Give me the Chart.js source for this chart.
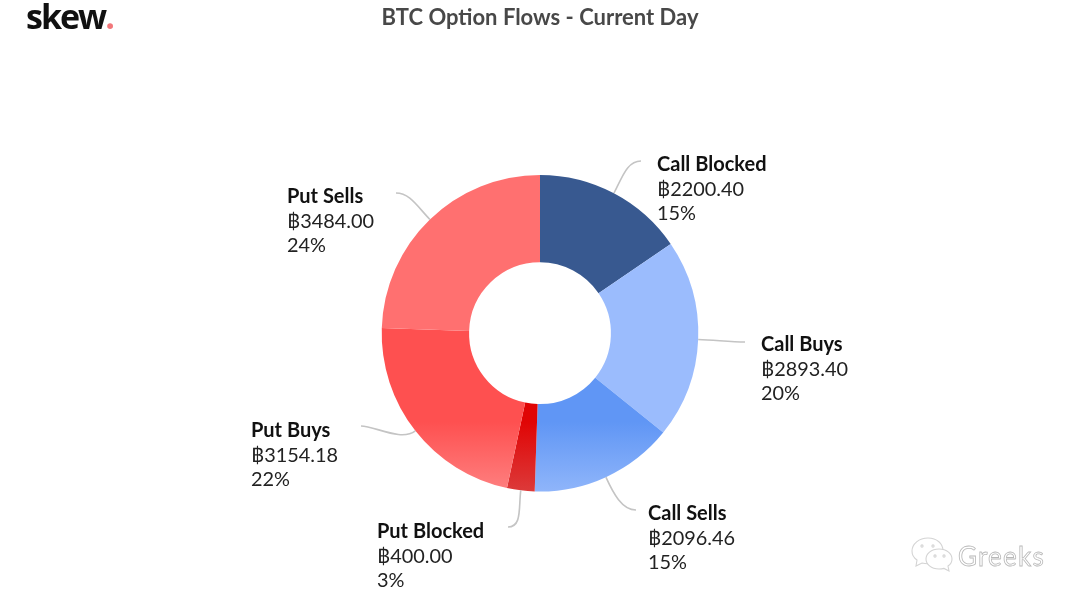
<!DOCTYPE html>
<html>
<head>
<meta charset="utf-8">
<title>BTC Option Flows - Current Day</title>
<script src="https://cdn.jsdelivr.net/npm/chart.js@4/dist/chart.umd.min.js"></script>
<style>
  html, body { margin: 0; padding: 0; background: #fff; }
  #wrap { position: relative; width: 1080px; height: 603px; overflow: hidden; }
  #logo { position: absolute; left: 26px; top: -7px; font: bold 34px "Open Sans", sans-serif; color: #111; letter-spacing: -2px; }
  #logo span { color: #f2777a; }
  #mark { position: absolute; left: 910px; top: 536px; }
</style>
</head>
<body>
<div id="wrap">
  <canvas id="flows" width="1080" height="603"></canvas>
  <div id="logo">skew<span>.</span></div>
  <svg id="mark" width="140" height="46" viewBox="0 0 140 46">
    <g fill="#fff" stroke="#d4d4d4" stroke-width="1.1">
      <path d="M18 2c-9 0-16 6-16 13 0 4 2 7 5 9l-1 6 6-3c2 .5 4 .7 6 .7 9 0 15-6 15-13S27 2 18 2z"/>
      <path d="M29 13c-8 0-13 5-13 10s5 10 13 10c2 0 3 0 5-.6l5 2.6-1-5c3-2 4-4 4-7 0-5-5-10-13-10z"/>
      <circle cx="12" cy="10" r="1.1"/><circle cx="23" cy="10" r="1.1"/>
      <circle cx="25" cy="20" r="1.1"/><circle cx="34" cy="20" r="1.1"/>
    </g>
    <text x="48" y="30" font-family="Lato, sans-serif" font-size="26" letter-spacing="1.2" fill="#fff" stroke="#b8b8b8" stroke-width="0.8">Greeks</text>
  </svg>
</div>
<script>
// values
const categories = ['Call Blocked', 'Call Buys', 'Call Sells', 'Put Blocked', 'Put Buys', 'Put Sells'];
const btcValues = [2200.40, 2893.40, 2096.46, 400.00, 3154.18, 3484.00];
const percentLabels = ['15%', '20%', '15%', '3%', '22%', '24%'];
const sliceColors = ['#385990', '#9bbcfd', '#6096f5', '#e00505', '#fe5050', '#ff7070'];
const fadeColors = ['#385990', '#a9c5fb', '#8fb5fa', '#dc3a3a', '#fe8080', '#ff7070'];

// where each label block starts and where its leader line ends
const labelBoxes = [[657, 171], [761, 351], [648, 520], [377, 538], [251, 437], [287, 203]];
const lineEnds = [[641, 161], [745, 342], [636, 510], [508, 527], [361, 426], [396, 193]];

const ringLabels = {
  id: 'ringLabels',
  afterDatasetsDraw(chart) {
    const ctx = chart.ctx;
    const arcs = chart.getDatasetMeta(0).data;
    ctx.save();
    arcs.forEach((arc, i) => {
      const mid = (arc.startAngle + arc.endAngle) / 2;
      const sx = arc.x + Math.cos(mid) * arc.outerRadius;
      const sy = arc.y + Math.sin(mid) * arc.outerRadius;
      const [ex, ey] = lineEnds[i];
      ctx.beginPath();
      ctx.moveTo(sx, sy);
      ctx.bezierCurveTo(sx + Math.cos(mid) * 18, sy + Math.sin(mid) * 18, ex + (sx < ex ? -14 : 14), ey, ex, ey);
      ctx.strokeStyle = '#c4c4c4';
      ctx.lineWidth = 1.6;
      ctx.stroke();

      const [lx, ly] = labelBoxes[i];
      ctx.textBaseline = 'alphabetic';
      ctx.textAlign = 'left';
      ctx.fillStyle = '#111';
      ctx.font = 'bold 20px Lato';
      ctx.fillText(categories[i], lx, ly);
      ctx.fillStyle = '#222';
      ctx.font = '19.9px Lato';
      ctx.fillText('\u0E3F' + btcValues[i].toFixed(2), lx, ly + 25);
      ctx.fillText(percentLabels[i], lx, ly + 49);
    });
    ctx.restore();
  }
};

new Chart(document.getElementById('flows'), {
  type: 'doughnut',
  data: {
    labels: categories,
    datasets: [{
      data: btcValues,
      borderWidth: 0,
      backgroundColor(c) {
        const area = c.chart.chartArea;
        if (!area) return sliceColors[c.dataIndex];
        // lower part of the ring fades out a little
        const g = c.chart.ctx.createLinearGradient(0, area.top + area.height * 0.78, 0, area.bottom);
        g.addColorStop(0, sliceColors[c.dataIndex]);
        g.addColorStop(1, fadeColors[c.dataIndex]);
        return g;
      }
    }]
  },
  options: {
    responsive: false,
    animation: false,
    cutout: '44.8%',
    layout: { padding: { bottom: 111.5 } },
    plugins: {
      legend: { display: false },
      tooltip: { enabled: false },
      title: {
        display: true,
        text: 'BTC Option Flows - Current Day',
        color: '#484848',
        font: { family: 'Lato', size: 22, weight: 'bold' },
        padding: { top: 5, bottom: 143.5 }
      }
    }
  },
  plugins: [ringLabels]
});
</script>
</body>
</html>
